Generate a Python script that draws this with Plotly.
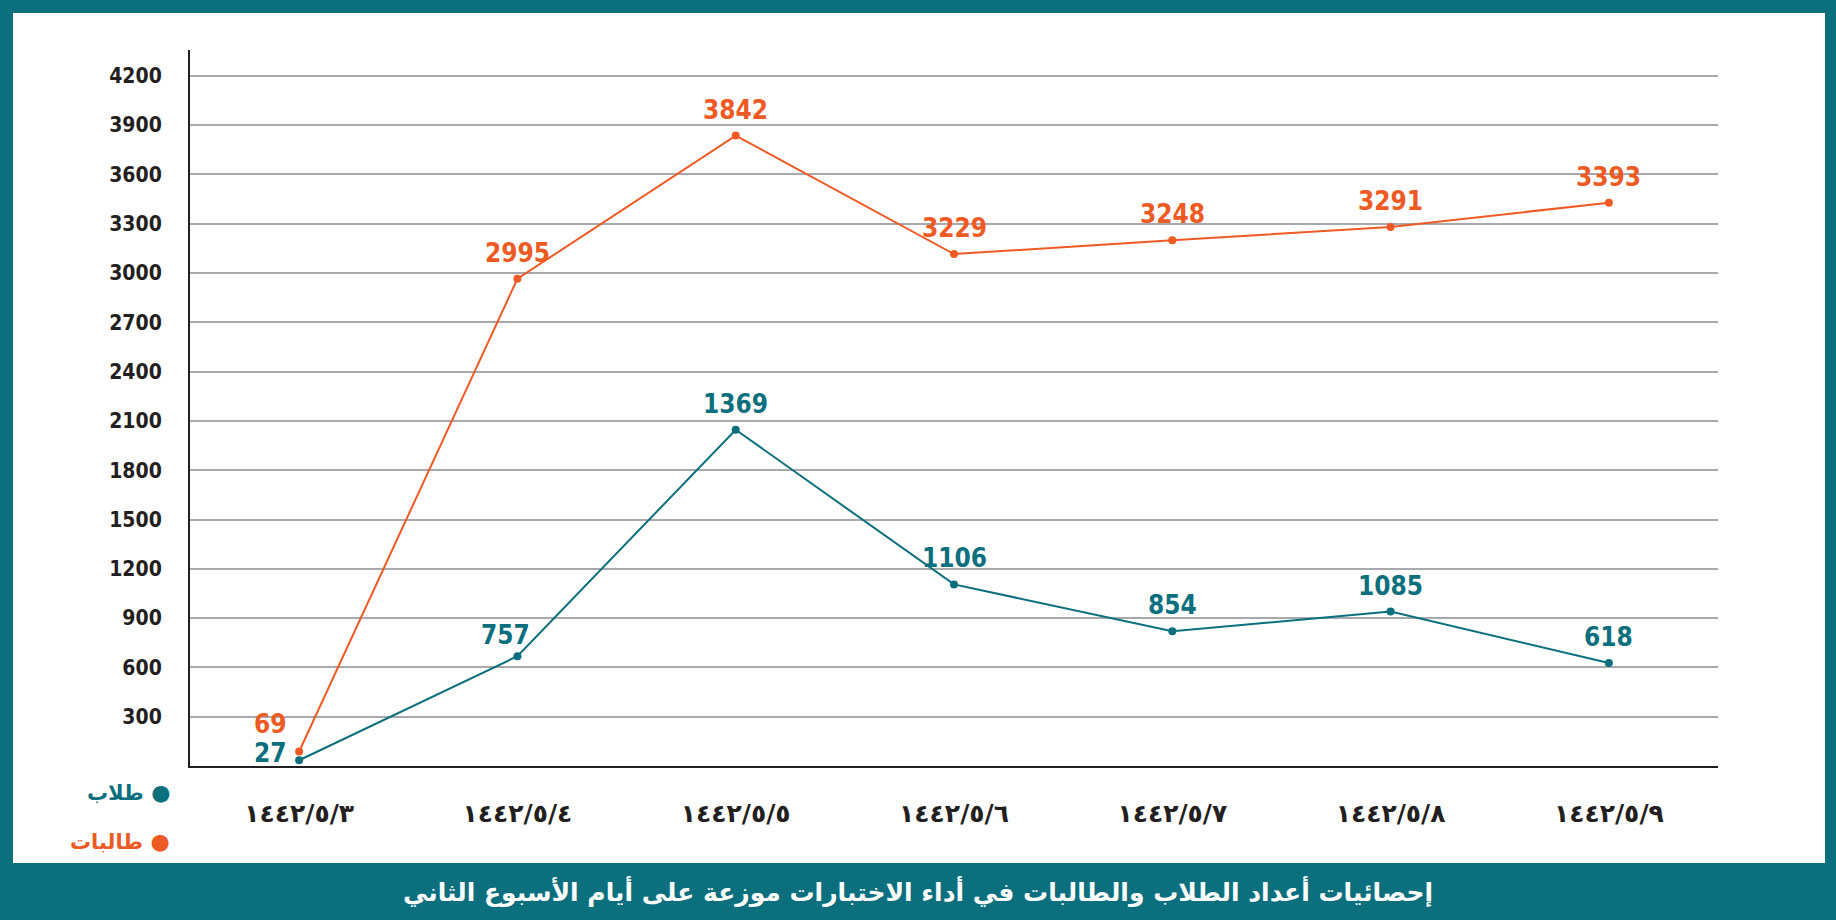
import plotly.graph_objects as go

# ---- data ----
categories = ["١٤٤٢/٥/٣", "١٤٤٢/٥/٤", "١٤٤٢/٥/٥", "١٤٤٢/٥/٦", "١٤٤٢/٥/٧", "١٤٤٢/٥/٨", "١٤٤٢/٥/٩"]
# plotted positions
female_values = [88, 2965, 3836, 3115, 3200, 3280, 3428]
male_values = [35, 668, 2046, 1105, 820, 940, 627]
# printed data labels
female_labels = ["69", "2995", "3842", "3229", "3248", "3291", "3393"]
male_labels = ["27", "757", "1369", "1106", "854", "1085", "618"]
y_ticks = [300, 600, 900, 1200, 1500, 1800, 2100, 2400, 2700, 3000, 3300, 3600, 3900, 4200]
female_name = "طالبات"
male_name = "طلاب"
title_text = "إحصائيات أعداد الطلاب والطالبات في أداء الاختبارات موزعة على أيام الأسبوع الثاني"

TEAL = "#0b6f7e"
ORANGE = "#ee5a24"
DARK = "#231f20"
GRID = "#a7a9ac"
NUM_FONT = "Liberation Sans Narrow, DejaVu Sans Condensed, sans-serif"
AR_FONT = "DejaVu Sans, Noto Sans, sans-serif"
LBL_SIZE = 26

W, H = 1836, 920
L, R, T, B = 190, 118, 50, 154
PW, PH = W - L - R, H - T - B


def px(x):
    return (x - L) / PW


def py(y):
    return (H - B - y) / PH


fig = go.Figure()
fig.add_trace(go.Scatter(x=categories, y=female_values, mode="lines+markers", name=female_name,
                         line=dict(color=ORANGE, width=2), marker=dict(color=ORANGE, size=8),
                         showlegend=False, hoverinfo="skip"))
fig.add_trace(go.Scatter(x=categories, y=male_values, mode="lines+markers", name=male_name,
                         line=dict(color=TEAL, width=2), marker=dict(color=TEAL, size=8),
                         showlegend=False, hoverinfo="skip"))


def label(c, v, t, color, first, first_dy):
    f = dict(family=NUM_FONT, size=LBL_SIZE, color=color, weight="bold")
    if first:
        return dict(x=c, y=v, text=t, xref="x", yref="y", showarrow=False,
                    xanchor="right", yanchor="middle", xshift=-10, yshift=first_dy, font=f)
    return dict(x=c, y=v, text=t, xref="x", yref="y", showarrow=False,
                xanchor="center", yanchor="middle", yshift=26, font=f)


annotations = []
for i, (c, v, t) in enumerate(zip(categories, female_values, female_labels)):
    annotations.append(label(c, v, t, ORANGE, i == 0, 28))
for i, (c, v, t) in enumerate(zip(categories, male_values, male_labels)):
    a = label(c, v, t, TEAL, i == 0, 7)
    if i == 1:
        a["xshift"] = -12
        a["yshift"] = 21
    annotations.append(a)

# legend (manual, dot on the right)
annotations.append(dict(x=px(172), y=py(793), xref="paper", yref="paper", showarrow=False,
                        xanchor="right", yanchor="middle",
                        text=male_name + " <span style='font-size:22px'>●</span>",
                        font=dict(family=AR_FONT, size=21, color=TEAL, weight="bold")))
annotations.append(dict(x=px(172), y=py(841), xref="paper", yref="paper", showarrow=False,
                        xanchor="right", yanchor="middle",
                        text=female_name + " <span style='font-size:22px'>●</span>",
                        font=dict(family=AR_FONT, size=21, color=ORANGE, weight="bold")))
# title in the bottom band
annotations.append(dict(x=px(918), y=py(892), xref="paper", yref="paper", showarrow=False,
                        xanchor="center", yanchor="middle", text=title_text,
                        font=dict(family=AR_FONT, size=25, color="white", weight="bold")))

shapes = [dict(type="rect", xref="paper", yref="paper", layer="below",
               x0=px(13), x1=px(1825), y0=py(863), y1=py(13),
               fillcolor="white", line=dict(width=0))]

fig.update_layout(
    width=W, height=H,
    margin=dict(l=L, r=R, t=T, b=B, pad=0),
    paper_bgcolor=TEAL, plot_bgcolor="white",
    shapes=shapes, annotations=annotations,
    xaxis=dict(type="category", range=[-0.5, 6.5], showgrid=False, zeroline=False,
               showline=True, linecolor=DARK, linewidth=2, ticks="", ticklabelstandoff=24,
               tickfont=dict(family=AR_FONT, size=25, color=DARK, weight="bold")),
    yaxis=dict(range=[0, 4357], tickvals=y_ticks, ticktext=[str(v) for v in y_ticks],
               showgrid=True, gridcolor=GRID, gridwidth=2, zeroline=False,
               showline=True, linecolor=DARK, linewidth=2, ticks="", ticklabelstandoff=22,
               tickfont=dict(family=NUM_FONT, size=21, color=DARK, weight="bold")),
)

fig.write_html("out.html", config={"displayModeBar": False},
               post_script="document.body.style.margin='0';document.body.style.overflow='hidden';")
